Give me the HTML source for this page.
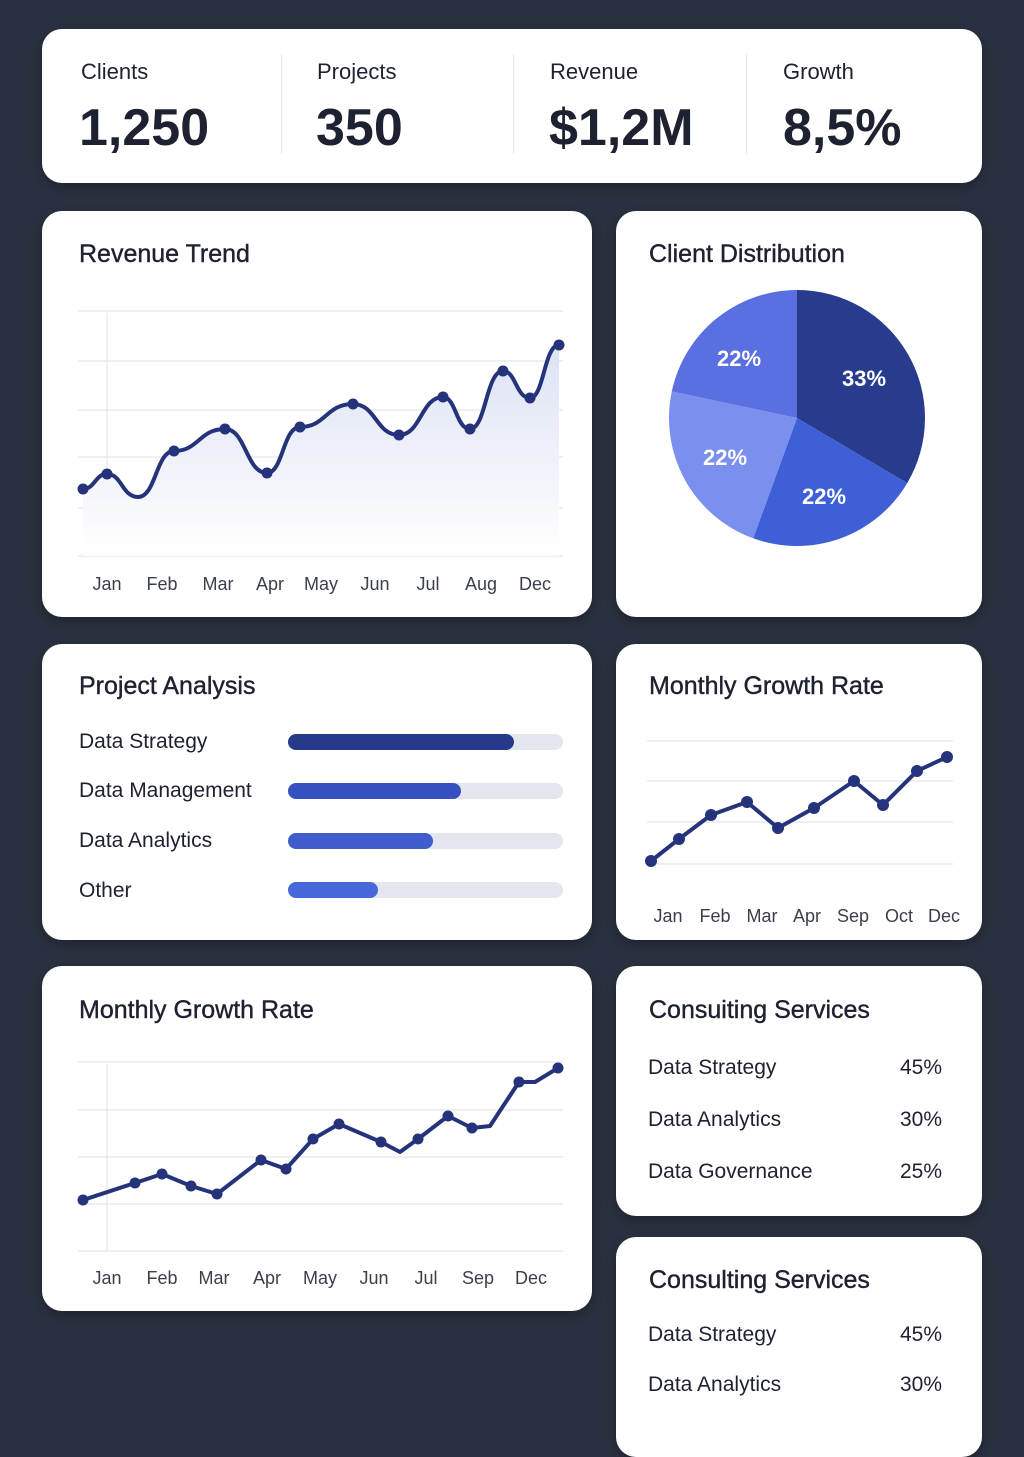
<!DOCTYPE html>
<html><head><meta charset="utf-8"><style>
body{margin:0;width:1024px;height:1408px;background:#29303f;font-family:"Liberation Sans",sans-serif;position:relative;overflow:hidden;color:#1d2130}
.card{position:absolute;background:#fff;border-radius:20px;box-shadow:0 4px 10px rgba(0,0,0,.25)}
.t{position:absolute;font-size:25px;color:#1d2130;-webkit-text-stroke:0.4px #1d2130}
.s{position:absolute;font-size:22px}
.v{position:absolute;font-size:52px;font-weight:bold;letter-spacing:0px}
.div{position:absolute;top:54px;width:1px;height:100px;background:#e6e8ee}
.lab{position:absolute;font-size:21px}
.track{position:absolute;left:288px;width:275px;height:16px;border-radius:8px;background:#e3e6ee}
.fill{position:absolute;left:0;top:0;height:16px;border-radius:8px}
svg{position:absolute;left:0;top:0}
</style></head><body>
<div class="card" style="left:42px;top:29px;width:940px;height:154px"></div>
<div class="s" style="left:81px;top:59px">Clients</div><div class="v" style="left:79px;top:98px">1,250</div>
<div class="s" style="left:317px;top:59px">Projects</div><div class="v" style="left:316px;top:98px">350</div>
<div class="s" style="left:550px;top:59px">Revenue</div><div class="v" style="left:549px;top:98px">$1,2M</div>
<div class="s" style="left:783px;top:59px">Growth</div><div class="v" style="left:783px;top:98px">8,5%</div>
<div class="div" style="left:281px"></div><div class="div" style="left:513px"></div><div class="div" style="left:746px"></div>

<div class="card" style="left:42px;top:211px;width:550px;height:406px"></div>
<div class="t" style="left:79px;top:240px">Revenue Trend</div>
<div class="card" style="left:616px;top:211px;width:366px;height:406px"></div>
<div class="t" style="left:649px;top:240px">Client Distribution</div>
<div class="card" style="left:42px;top:644px;width:550px;height:296px"></div>
<div class="t" style="left:79px;top:672px">Project Analysis</div>
<div class="card" style="left:616px;top:644px;width:366px;height:296px"></div>
<div class="t" style="left:649px;top:672px">Monthly Growth Rate</div>
<div class="card" style="left:42px;top:966px;width:550px;height:345px"></div>
<div class="t" style="left:79px;top:996px">Monthly Growth Rate</div>
<div class="card" style="left:616px;top:966px;width:366px;height:250px"></div>
<div class="t" style="left:649px;top:996px">Consuiting Services</div>
<div class="card" style="left:616px;top:1237px;width:366px;height:220px"></div>
<div class="t" style="left:649px;top:1266px">Consulting Services</div>

<div class="lab" style="left:79px;top:730px">Data Strategy</div>
<div class="lab" style="left:79px;top:779px">Data Management</div>
<div class="lab" style="left:79px;top:829px">Data Analytics</div>
<div class="lab" style="left:79px;top:879px">Other</div>
<div class="track" style="top:734px"><div class="fill" style="width:226px;background:#27398a"></div></div>
<div class="track" style="top:783px"><div class="fill" style="width:173px;background:#3550c0"></div></div>
<div class="track" style="top:833px"><div class="fill" style="width:145px;background:#3f5ecc"></div></div>
<div class="track" style="top:882px"><div class="fill" style="width:90px;background:#4867d8"></div></div>

<div class="lab" style="left:648px;top:1056px">Data Strategy</div><div class="lab" style="left:900px;top:1056px">45%</div>
<div class="lab" style="left:648px;top:1108px">Data Analytics</div><div class="lab" style="left:900px;top:1108px">30%</div>
<div class="lab" style="left:648px;top:1160px">Data Governance</div><div class="lab" style="left:900px;top:1160px">25%</div>
<div class="lab" style="left:648px;top:1323px">Data Strategy</div><div class="lab" style="left:900px;top:1323px">45%</div>
<div class="lab" style="left:648px;top:1373px">Data Analytics</div><div class="lab" style="left:900px;top:1373px">30%</div>

<svg width="1024" height="1408" font-family="Liberation Sans, sans-serif">
<defs><linearGradient id="g" x1="0" y1="0" x2="0" y2="1"><stop offset="0" stop-color="#dde2f4"/><stop offset="1" stop-color="#ffffff"/></linearGradient></defs>
<g stroke="#e3e5ea" stroke-width="1.2">
<line x1="78" x2="563" y1="311" y2="311"/><line x1="78" x2="563" y1="361" y2="361"/><line x1="78" x2="563" y1="410" y2="410"/><line x1="78" x2="563" y1="457" y2="457"/><line x1="78" x2="563" y1="508" y2="508"/><line x1="78" x2="563" y1="556" y2="556"/><line x1="107" x2="107" y1="313" y2="556"/>
<line x1="647" x2="953" y1="741" y2="741"/><line x1="647" x2="953" y1="781" y2="781"/><line x1="647" x2="953" y1="822" y2="822"/><line x1="647" x2="953" y1="864" y2="864"/>
<line x1="78" x2="563" y1="1062" y2="1062"/><line x1="78" x2="563" y1="1110" y2="1110"/><line x1="78" x2="563" y1="1157" y2="1157"/><line x1="78" x2="563" y1="1204" y2="1204"/><line x1="78" x2="563" y1="1251" y2="1251"/><line x1="107" x2="107" y1="1064" y2="1251"/>
</g>
<path d="M83,489 C95,489 95,474 107,474 C122,474 122,497 138,497 C156,497 156,451 174,451 C199,451 199,429 225,429 C246,429 246,473 267,473 C283,473 283,427 300,427 C326,427 326,404 353,404 C376,404 376,435 399,435 C421,435 421,397 443,397 C456,397 456,429 470,429 C486,429 486,371 503,371 C516,371 516,398 530,398 C544,398 544,345 559,345 L559,556 L83,556 Z" fill="url(#g)"/>
<path d="M83,489 C95,489 95,474 107,474 C122,474 122,497 138,497 C156,497 156,451 174,451 C199,451 199,429 225,429 C246,429 246,473 267,473 C283,473 283,427 300,427 C326,427 326,404 353,404 C376,404 376,435 399,435 C421,435 421,397 443,397 C456,397 456,429 470,429 C486,429 486,371 503,371 C516,371 516,398 530,398 C544,398 544,345 559,345" fill="none" stroke="#25337a" stroke-width="4"/>
<g fill="#25337a"><circle cx="83" cy="489" r="5.5"/><circle cx="107" cy="474" r="5.5"/><circle cx="174" cy="451" r="5.5"/><circle cx="225" cy="429" r="5.5"/><circle cx="267" cy="473" r="5.5"/><circle cx="300" cy="427" r="5.5"/><circle cx="353" cy="404" r="5.5"/><circle cx="399" cy="435" r="5.5"/><circle cx="443" cy="397" r="5.5"/><circle cx="470" cy="429" r="5.5"/><circle cx="503" cy="371" r="5.5"/><circle cx="530" cy="398" r="5.5"/><circle cx="559" cy="345" r="5.5"/></g>
<g font-size="18" fill="#3a3f4c" text-anchor="middle"><text x="107" y="590">Jan</text><text x="162" y="590">Feb</text><text x="218" y="590">Mar</text><text x="270" y="590">Apr</text><text x="321" y="590">May</text><text x="375" y="590">Jun</text><text x="428" y="590">Jul</text><text x="481" y="590">Aug</text><text x="535" y="590">Dec</text></g>

<polyline points="651,861 679,839 711,815 747,802 778,828 814,808 854,781 883,805 917,771 947,757" fill="none" stroke="#25337a" stroke-width="4" stroke-linejoin="round"/>
<g fill="#25337a"><circle cx="651" cy="861" r="6"/><circle cx="679" cy="839" r="6"/><circle cx="711" cy="815" r="6"/><circle cx="747" cy="802" r="6"/><circle cx="778" cy="828" r="6"/><circle cx="814" cy="808" r="6"/><circle cx="854" cy="781" r="6"/><circle cx="883" cy="805" r="6"/><circle cx="917" cy="771" r="6"/><circle cx="947" cy="757" r="6"/></g>
<g font-size="18" fill="#3a3f4c" text-anchor="middle"><text x="668" y="922">Jan</text><text x="715" y="922">Feb</text><text x="762" y="922">Mar</text><text x="807" y="922">Apr</text><text x="853" y="922">Sep</text><text x="899" y="922">Oct</text><text x="944" y="922">Dec</text></g>

<polyline points="83,1200 135,1183 162,1174 191,1186 217,1194 261,1160 286,1169 313,1139 339,1124 381,1142 400,1152 418,1139 448,1116 472,1128 490,1126 519,1082 535,1082 558,1068" fill="none" stroke="#25337a" stroke-width="4" stroke-linejoin="round"/>
<g fill="#25337a"><circle cx="83" cy="1200" r="5.5"/><circle cx="135" cy="1183" r="5.5"/><circle cx="162" cy="1174" r="5.5"/><circle cx="191" cy="1186" r="5.5"/><circle cx="217" cy="1194" r="5.5"/><circle cx="261" cy="1160" r="5.5"/><circle cx="286" cy="1169" r="5.5"/><circle cx="313" cy="1139" r="5.5"/><circle cx="339" cy="1124" r="5.5"/><circle cx="381" cy="1142" r="5.5"/><circle cx="418" cy="1139" r="5.5"/><circle cx="448" cy="1116" r="5.5"/><circle cx="472" cy="1128" r="5.5"/><circle cx="519" cy="1082" r="5.5"/><circle cx="558" cy="1068" r="5.5"/></g>
<g font-size="18" fill="#3a3f4c" text-anchor="middle"><text x="107" y="1284">Jan</text><text x="162" y="1284">Feb</text><text x="214" y="1284">Mar</text><text x="267" y="1284">Apr</text><text x="320" y="1284">May</text><text x="374" y="1284">Jun</text><text x="426" y="1284">Jul</text><text x="478" y="1284">Sep</text><text x="531" y="1284">Dec</text></g>

<g transform="translate(797,418)">
<path d="M0,0 L0,-128 A128,128 0 0 1 110.2,65.1 Z" fill="#283b8c"/>
<path d="M0,0 L110.2,65.1 A128,128 0 0 1 -43.8,120.3 Z" fill="#3e5fd6"/>
<path d="M0,0 L-43.8,120.3 A128,128 0 0 1 -125.2,-26.6 Z" fill="#7a8fee"/>
<path d="M0,0 L-125.2,-26.6 A128,128 0 0 1 0,-128 Z" fill="#5a6fe0"/>
</g>
<g font-size="22" font-weight="bold" fill="#fff" text-anchor="middle"><text x="864" y="386">33%</text><text x="739" y="366">22%</text><text x="725" y="465">22%</text><text x="824" y="504">22%</text></g>
</svg>
</body></html>
